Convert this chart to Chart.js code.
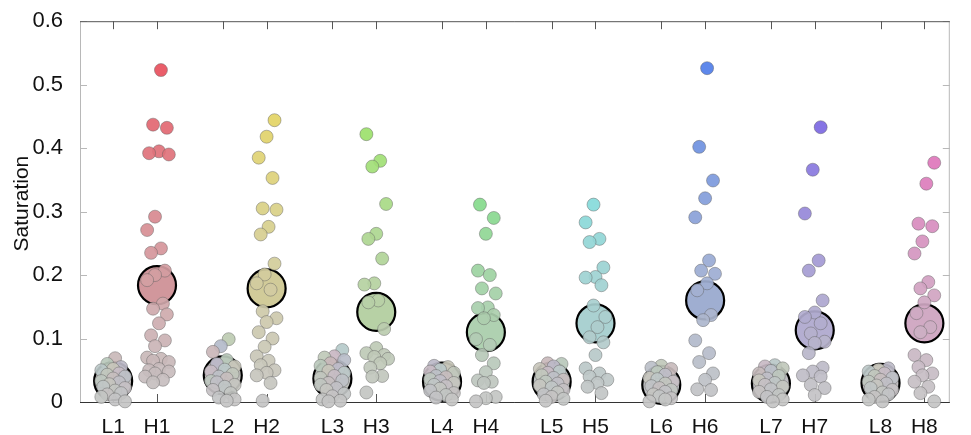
<!DOCTYPE html>
<html>
<head>
<meta charset="utf-8">
<script src="https://cdn.jsdelivr.net/npm/chart.js@4.4.0/dist/chart.umd.min.js"></script>
<style>
  html, body { margin: 0; padding: 0; background: #fff; }
  #wrap { width: 971px; height: 435px; }
</style>
</head>
<body>
<div id="wrap"><canvas id="satChart"></canvas></div>
<script>
const categories = ['L1', 'H1', 'L2', 'H2', 'L3', 'H3', 'L4', 'H4', 'L5', 'H5', 'L6', 'H6', 'L7', 'H7', 'L8', 'H8'];

const L1 = [0.069, 0.060, 0.055, 0.052, 0.050, 0.045, 0.043, 0.040, 0.037, 0.033, 0.031, 0.028, 0.024, 0.022, 0.018, 0.014, 0.012, 0.008, 0.004, 0.001];
const H1 = [0.523, 0.437, 0.432, 0.395, 0.392, 0.390, 0.292, 0.271, 0.242, 0.235, 0.207, 0.200, 0.192, 0.155, 0.147, 0.138, 0.124, 0.105, 0.097, 0.088, 0.070, 0.068, 0.065, 0.063, 0.052, 0.050, 0.048, 0.045, 0.040, 0.035, 0.031];
const L2 = [0.099, 0.088, 0.079, 0.066, 0.060, 0.056, 0.051, 0.048, 0.044, 0.040, 0.037, 0.033, 0.031, 0.027, 0.024, 0.019, 0.014, 0.007, 0.004, 0.002];
const H2 = [0.444, 0.418, 0.385, 0.353, 0.305, 0.303, 0.276, 0.264, 0.218, 0.201, 0.187, 0.177, 0.143, 0.132, 0.126, 0.110, 0.100, 0.087, 0.072, 0.065, 0.058, 0.050, 0.046, 0.042, 0.030, 0.002];
const L3 = [0.082, 0.072, 0.070, 0.066, 0.061, 0.057, 0.052, 0.049, 0.046, 0.041, 0.038, 0.034, 0.030, 0.027, 0.022, 0.019, 0.013, 0.009, 0.004, 0.002, 0.001];
const H3 = [0.422, 0.380, 0.371, 0.312, 0.265, 0.257, 0.226, 0.187, 0.185, 0.160, 0.157, 0.115, 0.085, 0.077, 0.074, 0.071, 0.068, 0.061, 0.054, 0.041, 0.040, 0.015];
const L4 = [0.057, 0.055, 0.051, 0.048, 0.046, 0.041, 0.039, 0.036, 0.033, 0.030, 0.027, 0.025, 0.021, 0.018, 0.014, 0.011, 0.007, 0.004];
const H4 = [0.311, 0.290, 0.265, 0.207, 0.200, 0.179, 0.171, 0.149, 0.148, 0.137, 0.132, 0.099, 0.090, 0.074, 0.061, 0.047, 0.034, 0.032, 0.030, 0.008, 0.006, 0.001];
const L5 = [0.061, 0.060, 0.056, 0.052, 0.048, 0.046, 0.042, 0.038, 0.035, 0.032, 0.029, 0.026, 0.023, 0.019, 0.015, 0.012, 0.008, 0.005, 0.002];
const H5 = [0.311, 0.283, 0.257, 0.252, 0.212, 0.197, 0.196, 0.184, 0.152, 0.134, 0.118, 0.102, 0.094, 0.074, 0.053, 0.045, 0.040, 0.035, 0.030, 0.024, 0.014];
const L6 = [0.057, 0.054, 0.052, 0.047, 0.043, 0.038, 0.036, 0.032, 0.029, 0.025, 0.022, 0.019, 0.016, 0.012, 0.009, 0.006, 0.004, 0.001];
const H6 = [0.526, 0.402, 0.349, 0.321, 0.291, 0.223, 0.207, 0.202, 0.187, 0.176, 0.137, 0.129, 0.097, 0.077, 0.063, 0.045, 0.035, 0.020, 0.019];
const L7 = [0.058, 0.056, 0.053, 0.049, 0.045, 0.041, 0.037, 0.034, 0.030, 0.027, 0.024, 0.020, 0.016, 0.011, 0.008, 0.004, 0.001];
const H7 = [0.433, 0.366, 0.297, 0.223, 0.207, 0.160, 0.141, 0.134, 0.124, 0.108, 0.095, 0.093, 0.077, 0.054, 0.048, 0.042, 0.040, 0.027, 0.022, 0.011];
const L8 = [0.053, 0.051, 0.048, 0.045, 0.041, 0.038, 0.035, 0.032, 0.029, 0.026, 0.022, 0.019, 0.015, 0.012, 0.008, 0.004, 0.001];
const H8 = [0.377, 0.344, 0.281, 0.277, 0.253, 0.234, 0.189, 0.179, 0.168, 0.157, 0.140, 0.118, 0.110, 0.074, 0.066, 0.055, 0.045, 0.042, 0.032, 0.024, 0.014, 0.001];

const means = [0.033, 0.184, 0.042, 0.179, 0.037, 0.142, 0.032, 0.110, 0.032, 0.124, 0.027, 0.160, 0.029, 0.113, 0.030, 0.124];
const hues = [355, 53, 95, 125, 180, 222, 250, 320];
const yTicks = [0, 0.1, 0.2, 0.3, 0.4, 0.5, 0.6];
const yTitle = 'Saturation';

const series = [L1, H1, L2, H2, L3, H3, L4, H4, L5, H5, L6, H6, L7, H7, L8, H8];

// L/H pairs one unit apart, pairs 2.5 units apart
const xPos = categories.map((c, i) => 1 + 2.5 * Math.floor(i / 2) + (i % 2));

const FONT = "'Liberation Sans', Arial, sans-serif";
const PX_X = 44.9, PX_Y = 636.7, DOT = 13;

function hsv(h, s, v, a) {
    const f = n => {
        const k = (n + h / 60) % 6;
        return v - v * s * Math.max(0, Math.min(k, 4 - k, 1));
    };
    const r = Math.round(f(5) * 255), g = Math.round(f(3) * 255), b = Math.round(f(1) * 255);
    return `rgba(${r},${g},${b},${a})`;
}

function dotColour(hue, val) {
    return hsv(hue, Math.min(1, val * 1.25), Math.min(0.92, 0.77 + 0.27 * val), 0.92);
}

// spread the dots sideways: golden-ratio jitter, nudged to avoid heavy overlap
function spread(values, centre, seed) {
    const placed = [];
    return values.map((v, i) => {
        const target = (((i + seed) * 0.618034) % 1 - 0.5) * 0.5;
        let best = target, bestScore = -Infinity;
        for (let k = -6; k <= 6; k++) {
            const off = k * 0.045;
            let gap = Infinity;
            placed.forEach(p => {
                gap = Math.min(gap, Math.hypot((p.x - off) * PX_X, (p.y - v) * PX_Y));
            });
            const score = Math.min(gap, DOT * 0.75) - Math.abs(off - target) * PX_X * 0.15;
            if (score > bestScore) { bestScore = score; best = off; }
        }
        placed.push({ x: best, y: v });
        return { x: centre + best, y: v };
    });
}

const dotSets = series.map((vals, i) => {
    const hue = hues[Math.floor(i / 2)];
    return {
        type: 'scatter',
        data: spread(vals, xPos[i], i * 5 + 1),
        backgroundColor: vals.map((v, j) => dotColour(i % 2 ? hue : hues[(j * 3 + i) % 8], v)),
        borderColor: 'rgba(95,95,95,0.55)',
        borderWidth: 0.8,
        pointRadius: 6.5,
        order: 0,
        clip: false
    };
});

const meanSet = {
    type: 'scatter',
    data: means.map((m, i) => ({ x: xPos[i], y: m })),
    backgroundColor: means.map((m, i) => {
        const hue = hues[Math.floor(i / 2)];
        return i % 2 ? hsv(hue, Math.min(1, m * 1.5), 0.82, 1) : hsv(hue, 0.02, 0.76, 1);
    }),
    borderColor: '#000',
    borderWidth: 2.2,
    pointRadius: 19,
    order: 1,
    clip: false
};

// box, inward tick marks on all four sides, rotated y title
const axisBox = {
    id: 'axisBox',
    beforeDatasetsDraw(chart) {
        const { ctx, chartArea: a, scales: { x, y } } = chart;
        ctx.save();
        ctx.lineWidth = 1;
        ctx.strokeStyle = '#b8b8b8';
        ctx.beginPath();
        ctx.moveTo(a.left + 0.5, a.top);
        ctx.lineTo(a.left + 0.5, a.bottom);
        ctx.moveTo(a.right - 0.5, a.top);
        ctx.lineTo(a.right - 0.5, a.bottom);
        yTicks.forEach(t => {
            const py = Math.round(y.getPixelForValue(t)) + 0.5;
            ctx.moveTo(a.left, py); ctx.lineTo(a.left + 7, py);
            ctx.moveTo(a.right, py); ctx.lineTo(a.right - 7, py);
        });
        ctx.stroke();
        ctx.strokeStyle = '#555';
        ctx.beginPath();
        ctx.moveTo(a.left, a.top + 0.5);
        ctx.lineTo(a.right, a.top + 0.5);
        xPos.forEach(v => {
            const px = Math.round(x.getPixelForValue(v)) + 0.5;
            ctx.moveTo(px, a.top); ctx.lineTo(px, a.top + 8);
            ctx.moveTo(px, a.bottom); ctx.lineTo(px, a.bottom - 8);
        });
        ctx.stroke();
        ctx.strokeStyle = '#333';
        ctx.beginPath();
        ctx.moveTo(a.left, a.bottom + 0.5);
        ctx.lineTo(a.right, a.bottom + 0.5);
        ctx.stroke();

        ctx.translate(22, (a.top + a.bottom) / 2 - 8);
        ctx.rotate(-Math.PI / 2);
        ctx.fillStyle = '#111';
        ctx.font = '21px ' + FONT;
        ctx.textAlign = 'center';
        ctx.textBaseline = 'middle';
        ctx.fillText(yTitle, 0, 0);
        ctx.restore();
    }
};

new Chart(document.getElementById('satChart'), {
    type: 'scatter',
    data: { datasets: [...dotSets, meanSet] },
    plugins: [axisBox],
    options: {
        responsive: true,
        maintainAspectRatio: false,
        animation: false,
        events: [],
        layout: { padding: { top: 20, right: 1, left: 0, bottom: 0 } },
        plugins: { legend: { display: false }, tooltip: { enabled: false } },
        scales: {
            x: {
                type: 'linear',
                min: 0.244,
                max: 20.08,
                grid: { display: false },
                border: { display: false },
                afterBuildTicks: s => { s.ticks = xPos.map(v => ({ value: v })); },
                afterFit: s => {
                    s.height = 33;
                    s.paddingLeft = 0;
                    s.paddingRight = 0;
                },
                ticks: {
                    autoSkip: false,
                    maxRotation: 0,
                    padding: 5,
                    color: '#111',
                    font: { family: FONT, size: 21 },
                    callback: (v, i) => categories[i]
                }
            },
            y: {
                min: 0,
                max: 0.6,
                grid: { display: false },
                border: { display: false },
                afterBuildTicks: s => { s.ticks = yTicks.map(v => ({ value: v })); },
                afterFit: s => {
                    s.width = 80;
                    s.paddingTop = 0;
                    s.paddingBottom = 0;
                },
                ticks: {
                    padding: 9,
                    color: '#111',
                    font: { family: FONT, size: 22 },
                    callback: v => v === 0 ? '0' : v.toFixed(1)
                }
            }
        }
    }
});
</script>
</body>
</html>
